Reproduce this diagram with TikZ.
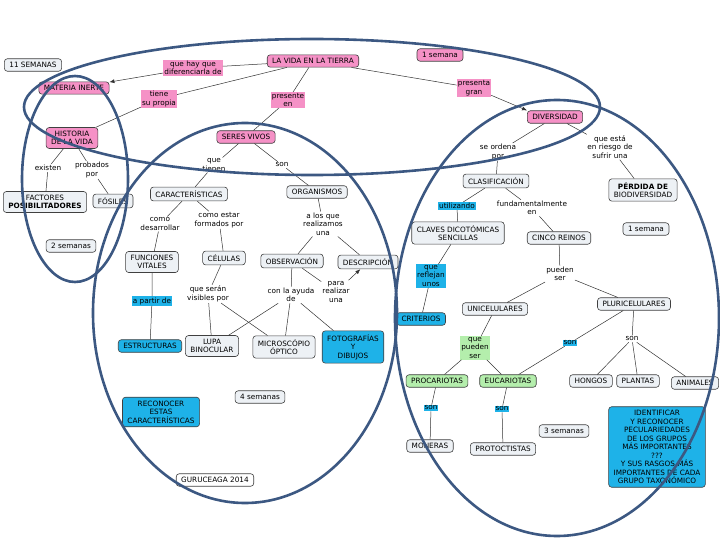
\documentclass[tikz,border=0pt]{standalone}
\usepackage{fontspec}
\setmainfont{DejaVu Sans}
\usetikzlibrary{arrows.meta}
\definecolor{pinkc}{RGB}{245,145,198}
\definecolor{cyanc}{RGB}{30,178,232}
\definecolor{greenc}{RGB}{180,238,172}
\definecolor{greyc}{RGB}{237,241,245}
\definecolor{ringc}{RGB}{60,88,130}
\begin{document}
\begin{tikzpicture}[x=1pt,y=-1pt,
  font=\fontsize{7.3}{8.5}\selectfont,
  conc/.style={draw=black!75,fill=greyc,rounded corners=3pt,line width=0.6pt,
    inner xsep=5pt,inner ysep=3.5pt,align=center},
  pinkconc/.style={conc,fill=pinkc},
  cyanconc/.style={conc,fill=cyanc},
  greenconc/.style={conc,fill=greenc},
  lab/.style={inner sep=1pt,align=center},
  pinklab/.style={lab,fill=pinkc},
  cyanlab/.style={lab,fill=cyanc},
  greenlab/.style={lab,fill=greenc},
  link/.style={black!80,line width=0.5pt},
  ring/.style={ringc,line width=2.6pt}]
  \useasboundingbox (0,0) rectangle (720,540);
  % pink concepts
  \node [pinkconc] (vida) at (313,61) {LA VIDA EN LA TIERRA};
  \node [pinkconc] (sem1) at (440,55) {1 semana};
  \node [pinkconc] (materia) at (74,88) {MATERIA INERTE};
  \node [pinkconc] (historia) at (72,138) {HISTORIA\\DE LA VIDA};
  \node [pinkconc] (seres) at (246,137) {SERES VIVOS};
  \node [pinkconc] (divers) at (555,117) {DIVERSIDAD};
  % grey concepts
  \node [conc] (sem11) at (33,65) {11 SEMANAS};
  \node [conc] (factores) at (45,202) {FACTORES\\\textbf{POSIBILITADORES}};
  \node [conc] (fosiles) at (113,201) {FÓSILES};
  \node [conc] (sem2) at (71,246) {2 semanas};
  \node [conc] (caract) at (189,194) {CARACTERÍSTICAS};
  \node [conc] (organ) at (317,192) {ORGANISMOS};
  \node [conc] (funcion) at (152,262) {FUNCIONES\\VITALES};
  \node [conc] (celulas) at (224,258) {CÉLULAS};
  \node [conc] (observ) at (292,261) {OBSERVACIÓN};
  \node [conc] (descrip) at (368,262) {DESCRIPCIÓN};
  \node [conc] (lupa) at (212,346) {LUPA\\BINOCULAR};
  \node [conc] (micro) at (284,347) {MICROSCÓPIO\\ÓPTICO};
  \node [conc] (sem4) at (260,397) {4 semanas};
  \node [conc,fill=white] (autor) at (215,480) {GURUCEAGA 2014};
  \node [conc] (clasif) at (496,181) {CLASIFICACIÓN};
  \node [conc] (perdida) at (643,190) {\textbf{PÉRDIDA DE}\\BIODIVERSIDAD};
  \node [conc] (claves) at (458,233) {CLAVES DICOTÓMICAS\\SENCILLAS};
  \node [conc] (cinco) at (559,238) {CINCO REINOS};
  \node [conc] (sem1b) at (646,229) {1 semana};
  \node [conc] (unicel) at (495,309) {UNICELULARES};
  \node [conc] (pluricel) at (634,304) {PLURICELULARES};
  \node [conc] (hongos) at (591,381) {HONGOS};
  \node [conc] (plantas) at (638,381) {PLANTAS};
  \node [conc] (animales) at (695,383) {ANIMALES};
  \node [conc] (moneras) at (430,446) {MONERAS};
  \node [conc] (protoc) at (503,449) {PROTOCTISTAS};
  \node [conc] (sem3) at (564,431) {3 semanas};
  % cyan and green concepts
  \node [cyanconc] (estruct) at (150,346) {ESTRUCTURAS};
  \node [cyanconc] (fotos) at (353,347) {FOTOGRAFÍAS\\Y\\DIBUJOS};
  \node [cyanconc] (reconocer) at (161,412) {RECONOCER\\ESTAS\\CARACTERÍSTICAS};
  \node [cyanconc] (criterios) at (421,319) {CRITERIOS};
  \node [cyanconc] (identificar) at (657,447) {IDENTIFICAR\\Y RECONOCER\\PECULARIEDADES\\DE LOS GRUPOS\\MÁS IMPORTANTES\\???\\Y SUS RASGOS MÁS\\IMPORTANTES DE CADA\\GRUPO TAXONÓMICO};
  \node [greenconc] (procar) at (437,381) {PROCARIOTAS};
  \node [greenconc] (eucar) at (508,381) {EUCARIOTAS};
  % link labels
  \node [pinklab] (diferenciar) at (193,68) {que hay que\\diferenciarla de};
  \node [pinklab] (propia) at (159,99) {tiene\\su propia};
  \node [pinklab] (presente) at (288,100) {presente\\en};
  \node [pinklab] (gran) at (474,88) {presenta\\gran};
  \node [lab] (existen) at (48,168) {existen};
  \node [lab] (probados) at (92,170) {probados\\por};
  \node [lab] (tienen) at (214,165) {que\\tienen};
  \node [lab] (son1) at (282,165) {son};
  \node [lab] (desarr) at (160,224) {como\\desarrollar};
  \node [lab] (estar) at (219,220) {como estar\\formados por};
  \node [lab] (losque) at (323,224) {a los que\\realizamos\\una};
  \node [lab] (visibles) at (208,294) {que serán\\visibles por};
  \node [lab] (ayuda) at (291,295) {con la ayuda\\de};
  \node [lab] (realizar) at (336,292) {para\\realizar\\una};
  \node [lab] (ordena) at (498,152) {se ordena\\por};
  \node [lab] (riesgo) at (610,147) {que está\\en riesgo de\\sufrir una};
  \node [lab] (fundam) at (532,208) {fundamentalmente\\en};
  \node [lab] (pueden) at (560,274) {pueden\\ser};
  \node [lab] (son3) at (632,339) {son};
  \node [cyanlab] (partir) at (152,301) {a partir de};
  \node [cyanlab] (utilizando) at (457,206) {utilizando};
  \node [cyanlab] (reflejan) at (431,276) {que\\reflejan\\unos};
  \node [cyanlab] (son2) at (570,343) {son};
  \node [cyanlab] (son4) at (431,408) {son};
  \node [cyanlab] (son5) at (502,409) {son};
  \node [greenlab] (puedenser) at (475,348) {que\\pueden\\ser};
  % connectors
  \draw [link,-{Latex[length=5pt,width=4pt]}] (diferenciar) -- (materia);
  \draw [link] (diferenciar) -- (vida);
  \draw [link] (propia) -- (vida);
  \draw [link] (propia) -- (historia);
  \draw [link] (vida) -- (presente) -- (seres);
  \draw [link] (vida) -- (gran);
  \draw [link,-{Latex[length=5pt,width=4pt]}] (gran) -- (divers.north west);
  \draw [link] (historia) -- (existen) -- (factores);
  \draw [link] (historia) -- (probados) -- (fosiles);
  \draw [link] (seres) -- (tienen) -- (caract);
  \draw [link] (seres) -- (son1) -- (organ);
  \draw [link] (caract) -- (desarr) -- (funcion);
  \draw [link] (caract) -- (estar) -- (celulas);
  \draw [link] (funcion) -- (partir) -- (estruct);
  \draw [link] (celulas) -- (visibles);
  \draw [link] (visibles) -- (lupa);
  \draw [link] (visibles) -- (micro);
  \draw [link] (organ) -- (losque);
  \draw [link] (losque) -- (observ);
  \draw [link] (losque) -- (descrip);
  \draw [link] (observ) -- (realizar);
  \draw [link,-{Latex[length=5pt,width=4pt]}] (realizar) -- (descrip);
  \draw [link] (observ) -- (ayuda);
  \draw [link] (ayuda) -- (micro);
  \draw [link] (ayuda) -- (fotos);
  \draw [link] (ayuda) -- (lupa);
  \draw [link] (divers) -- (ordena) -- (clasif);
  \draw [link] (divers) -- (riesgo) -- (perdida);
  \draw [link] (clasif) -- (utilizando) -- (claves);
  \draw [link] (clasif) -- (fundam) -- (cinco);
  \draw [link] (claves) -- (reflejan) -- (criterios);
  \draw [link] (cinco) -- (pueden);
  \draw [link] (pueden) -- (unicel);
  \draw [link] (pueden) -- (pluricel);
  \draw [link] (unicel) -- (puedenser);
  \draw [link] (puedenser) -- (procar);
  \draw [link] (puedenser) -- (eucar);
  \draw [link] (pluricel) -- (son2) -- (eucar);
  \draw [link] (pluricel) -- (son3);
  \draw [link] (son3) -- (hongos);
  \draw [link] (son3) -- (plantas);
  \draw [link] (son3) -- (animales);
  \draw [link] (procar) -- (son4) -- (moneras);
  \draw [link] (eucar) -- (son5) -- (protoc);
  % grouping rings
  \draw [ring] (312,107) ellipse [x radius=288pt, y radius=68pt];
  \draw [ring] (75,179) ellipse [x radius=53pt, y radius=103pt];
  \draw [ring] (245,313) ellipse [x radius=152pt, y radius=190pt];
  \draw [ring] (557,318) ellipse [x radius=162pt, y radius=218pt];
\end{tikzpicture}
\end{document}
